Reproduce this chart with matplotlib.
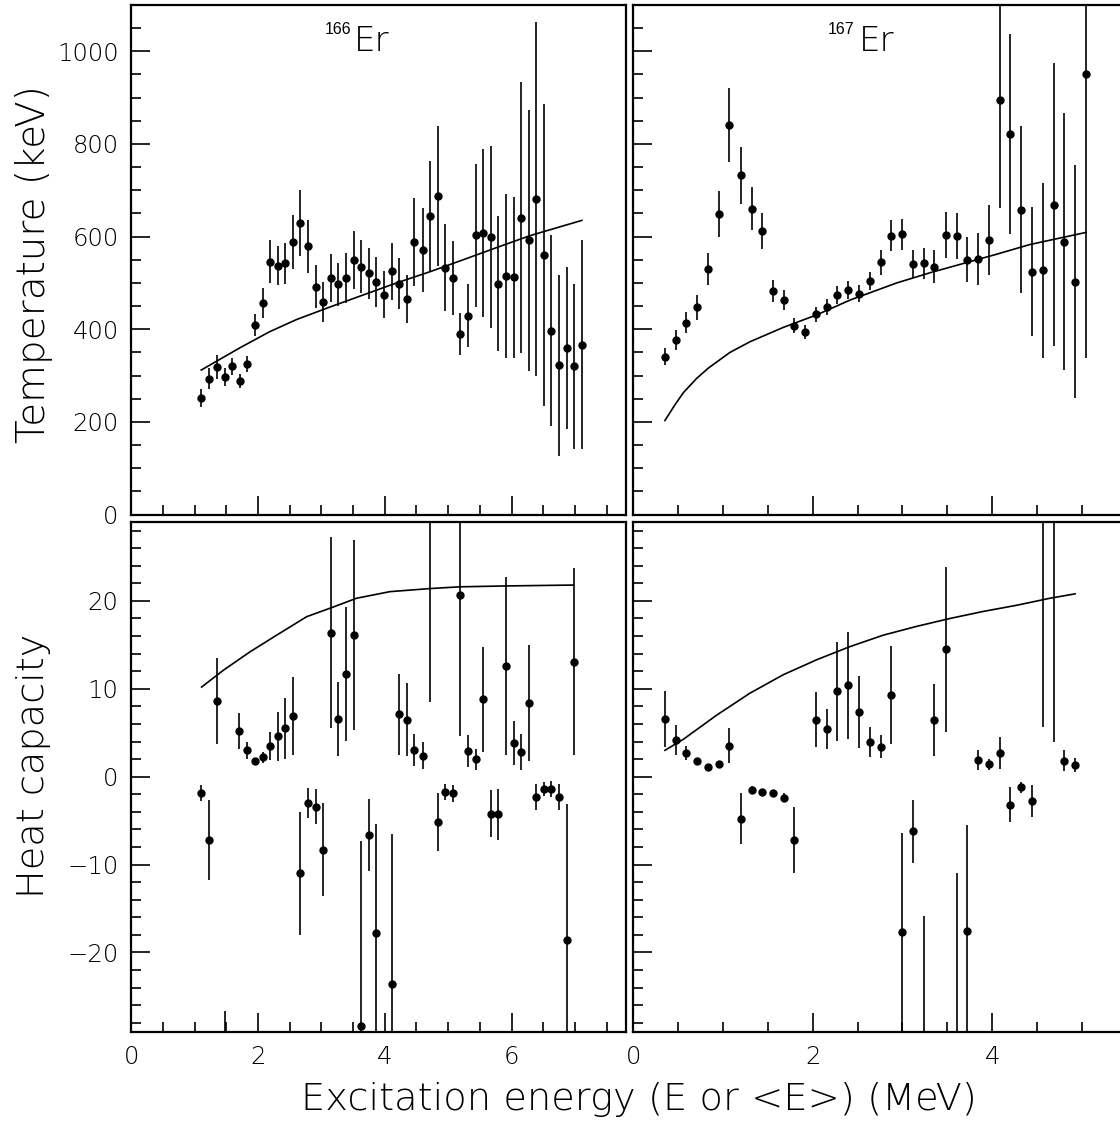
import matplotlib
matplotlib.use("Agg")
import matplotlib.pyplot as plt
from matplotlib.ticker import MultipleLocator

# ---- 166Er temperature ----
e166_t = [1.106, 1.233, 1.353, 1.474, 1.595, 1.711, 1.832, 1.947, 2.073, 2.189,
          2.310, 2.426, 2.547, 2.668, 2.788, 2.909, 3.025, 3.151, 3.267, 3.388,
          3.508, 3.624, 3.745, 3.866, 3.992, 4.113, 4.229, 4.345, 4.465, 4.596,
          4.707, 4.833, 4.949, 5.075, 5.191, 5.312, 5.432, 5.548, 5.669, 5.790,
          5.911, 6.032, 6.147, 6.268, 6.384, 6.510, 6.630, 6.752, 6.873, 6.989,
          7.110]
t166 = [252, 293, 318, 297, 320, 288, 325, 409, 457, 546,
        537, 542, 588, 629, 579, 492, 458, 511, 497, 510,
        549, 535, 521, 502, 475, 525, 498, 465, 589, 571,
        645, 688, 533, 510, 390, 429, 603, 608, 599, 498,
        515, 512, 641, 592, 681, 561, 397, 322, 360, 320,
        367]
t166_err = [20, 23, 26, 20, 18, 15, 18, 23, 33, 46,
            42, 44, 58, 71, 57, 46, 43, 52, 47, 54,
            62, 57, 55, 55, 51, 62, 55, 52, 95, 91,
            119, 151, 94, 80, 46, 68, 154, 182, 196, 146,
            178, 174, 292, 282, 382, 326, 206, 195, 175, 178,
            225]
fit166_e = [1.106, 1.716, 2.189, 2.610, 3.135, 3.660, 4.187, 4.710, 5.238, 5.760, 6.290, 7.110]
fit166_t = [312, 360, 395, 421, 448, 474, 500, 524, 550, 576, 602, 635]

# ---- 167Er temperature ----
e167_t = [0.349, 0.472, 0.591, 0.710, 0.829, 0.952, 1.071, 1.200, 1.320, 1.439,
          1.558, 1.677, 1.796, 1.918, 2.037, 2.156, 2.275, 2.398, 2.517, 2.636,
          2.758, 2.877, 3.000, 3.119, 3.238, 3.357, 3.483, 3.606, 3.725, 3.844,
          3.963, 4.086, 4.204, 4.323, 4.446, 4.565, 4.688, 4.807, 4.926, 5.048]
t167 = [341, 377, 414, 448, 530, 649, 841, 732, 660, 613,
        482, 463, 408, 395, 432, 448, 474, 485, 477, 504,
        545, 602, 605, 540, 542, 535, 603, 602, 550, 552,
        593, 894, 821, 658, 524, 527, 669, 589, 503, 951]
t167_err = [19, 22, 23, 27, 34, 49, 80, 61, 46, 39,
            24, 22, 16, 15, 17, 17, 19, 20, 18, 19,
            27, 34, 34, 30, 33, 36, 50, 50, 49, 56,
            75, 232, 216, 180, 139, 188, 305, 277, 252, 612]
fit167_e = [0.352, 0.464, 0.557, 0.706, 0.835, 1.077, 1.300, 1.672, 2.044, 2.416,
            2.937, 3.309, 3.680, 4.052, 4.424, 5.048]
fit167_t = [203, 237, 263, 294, 316, 350, 373, 404, 431, 463,
            500, 522, 542, 562, 583, 609]

# ---- 166Er heat capacity ----
e166_c = [1.106, 1.233, 1.353, 1.474, 1.706, 1.832, 1.947, 2.073, 2.189, 2.310,
          2.426, 2.547, 2.668, 2.788, 2.909, 3.025, 3.151, 3.267, 3.388, 3.508,
          3.624, 3.745, 3.866, 4.113, 4.229, 4.345, 4.465, 4.596, 4.707, 4.833,
          4.949, 5.075, 5.191, 5.312, 5.432, 5.548, 5.669, 5.790, 5.911, 6.032,
          6.147, 6.268, 6.384, 6.510, 6.630, 6.752, 6.873, 6.989]
c166 = [-1.9, -7.2, 8.6, -40.0, 5.2, 3.0, 1.8, 2.2, 3.5, 4.6,
        5.5, 6.9, -11.0, -3.0, -3.4, -8.3, 16.4, 6.6, 11.7, 16.1,
        -28.4, -6.6, -17.8, -23.6, 7.1, 6.5, 3.0, 2.4, 40.0, -5.2,
        -1.7, -1.9, 20.7, 2.9, 2.0, 8.8, -4.2, -4.3, 12.6, 3.8,
        2.8, 8.4, -2.3, -1.4, -1.4, -2.3, -18.6, 13.1]
c166_err = [0.9, 4.6, 4.9, 13.3, 2.1, 1.0, 0.3, 0.6, 1.6, 2.8,
            3.5, 4.4, 7.0, 1.7, 2.0, 5.3, 10.9, 4.2, 7.6, 10.8,
            21.1, 4.1, 12.4, 17.1, 4.6, 4.2, 1.8, 1.5, 31.5, 3.3,
            0.9, 1.0, 16.1, 1.8, 1.2, 6.0, 2.7, 2.9, 10.1, 2.5,
            2.0, 6.6, 1.5, 0.8, 0.9, 1.5, 15.5, 10.6]
fit166c_e = [1.112, 1.453, 1.874, 2.295, 2.768, 3.188, 3.556, 4.082, 4.713, 5.186, 5.923, 6.973]
fit166c_c = [10.2, 12.1, 14.2, 16.1, 18.2, 19.3, 20.3, 21.05, 21.4, 21.6, 21.7, 21.8]

# ---- 167Er heat capacity ----
e167_c = [0.349, 0.472, 0.591, 0.710, 0.829, 0.952, 1.071, 1.200, 1.320, 1.439,
          1.558, 1.677, 1.796, 2.037, 2.156, 2.275, 2.398, 2.517, 2.636, 2.758,
          2.877, 3.000, 3.119, 3.238, 3.357, 3.483, 3.606, 3.725, 3.844, 3.963,
          4.086, 4.204, 4.323, 4.446, 4.565, 4.688, 4.807, 4.926]
c167 = [6.6, 4.2, 2.7, 1.8, 1.1, 1.4, 3.5, -4.8, -1.5, -1.7,
        -1.9, -2.4, -7.2, 6.5, 5.4, 9.7, 10.4, 7.4, 3.9, 3.4,
        9.3, -17.7, -6.2, -35.0, 6.5, 14.5, -32.0, -17.6, 1.9, 1.4,
        2.7, -3.2, -1.2, -2.8, 40.0, 45.0, 1.8, 1.3]
c167_err = [3.2, 1.7, 0.8, 0.3, 0.2, 0.3, 2.0, 2.9, 0.4, 0.3,
            0.3, 0.5, 3.8, 3.1, 2.3, 5.6, 6.1, 4.1, 1.7, 1.3,
            5.6, 11.3, 3.6, 19.2, 4.1, 9.4, 21.0, 12.1, 1.1, 0.6,
            1.8, 2.0, 0.6, 1.8, 34.4, 41.1, 1.2, 0.8]
fit167c_e = [0.352, 0.557, 0.929, 1.300, 1.672, 2.044, 2.416, 2.787, 3.159, 3.531, 3.902, 4.274, 4.646, 4.926]
fit167c_c = [3.0, 4.25, 7.0, 9.5, 11.6, 13.3, 14.8, 16.1, 17.1, 18.0, 18.8, 19.5, 20.3, 20.8]

# thin wide font, close to the old HIGZ look
FAM = 'DejaVu Sans'
WT = 200   # ExtraLight
plt.rcParams['font.family'] = [FAM]
plt.rcParams['font.weight'] = WT

fig = plt.figure(figsize=(11.2, 11.24), dpi=100)

# axes positions (figure fractions); right column runs past the edge like the scan
lx, lw = 0.1171, 0.4415
rx, rw = 0.5655, 0.4404
ty, th = 0.5422, 0.4534
by, bh = 0.0822, 0.4536

ax_tl = fig.add_axes([lx, ty, lw, th])
ax_tr = fig.add_axes([rx, ty, rw, th])
ax_bl = fig.add_axes([lx, by, lw, bh])
ax_br = fig.add_axes([rx, by, rw, bh])

panels = [
    (ax_tl, e166_t, t166, t166_err, fit166_e, fit166_t),
    (ax_tr, e167_t, t167, t167_err, fit167_e, fit167_t),
    (ax_bl, e166_c, c166, c166_err, fit166c_e, fit166c_c),
    (ax_br, e167_c, c167, c167_err, fit167c_e, fit167c_c),
]

for ax, x, y, yerr, fx, fy in panels:
    ax.errorbar(x, y, yerr=yerr, fmt='o', color='black', ms=5,
                elinewidth=1.2, capsize=0)
    ax.plot(fx, fy, color='black', lw=1.2)
    for s in ax.spines.values():
        s.set_linewidth(1.6)
    ax.tick_params(which='both', direction='in', top=False, right=False,
                   width=1.2, labelsize=17.5)
    ax.tick_params(which='major', length=14)
    ax.tick_params(which='minor', length=7)
    ax.tick_params(axis='x', pad=10)
    ax.tick_params(axis='y', pad=9)

for ax in (ax_tl, ax_bl):
    ax.set_xlim(0, 7.8)
for ax in (ax_tr, ax_br):
    ax.set_xlim(0, 5.5)
for ax in (ax_tl, ax_tr, ax_bl, ax_br):
    ax.xaxis.set_major_locator(MultipleLocator(2))
    ax.xaxis.set_minor_locator(MultipleLocator(0.5))

for ax in (ax_tl, ax_tr):
    ax.set_ylim(0, 1100)
    ax.yaxis.set_major_locator(MultipleLocator(200))
    ax.yaxis.set_minor_locator(MultipleLocator(50))
    ax.tick_params(labelbottom=False)
for ax in (ax_bl, ax_br):
    ax.set_ylim(-29, 29)
    ax.yaxis.set_major_locator(MultipleLocator(10))
    ax.yaxis.set_minor_locator(MultipleLocator(2))
for ax in (ax_tr, ax_br):
    ax.tick_params(labelleft=False)

# make sure tick labels use the extra-light face
for ax in (ax_tl, ax_tr, ax_bl, ax_br):
    for lab in ax.get_xticklabels() + ax.get_yticklabels():
        lab.set_fontfamily(FAM)
        lab.set_fontweight(WT)

# nucleus labels
ax_tl.text(3.52, 1000, 'Er', fontsize=24.5, family=FAM, fontweight=WT,
           ha='left', va='baseline')
ax_tl.text(3.48, 1038, '166', fontsize=11.5, family='Liberation Sans',
           fontweight='normal', ha='right', va='baseline')
ax_tr.text(2.52, 1000, 'Er', fontsize=24.5, family=FAM, fontweight=WT,
           ha='left', va='baseline')
ax_tr.text(2.47, 1038, '167', fontsize=11.5, family='Liberation Sans',
           fontweight='normal', ha='right', va='baseline')

fig.text(0.030, 0.765, 'Temperature (keV)', rotation=90, fontsize=28,
         family=FAM, fontweight=WT, ha='center', va='center')
fig.text(0.030, 0.3185, 'Heat capacity', rotation=90, fontsize=27.5,
         family=FAM, fontweight=WT, ha='center', va='center')
fig.text(0.5705, 0.0125, 'Excitation energy (E or <E>) (MeV)', fontsize=27.6,
         family=FAM, fontweight=WT, ha='center', va='baseline')

fig.savefig('out.png', dpi=100)
